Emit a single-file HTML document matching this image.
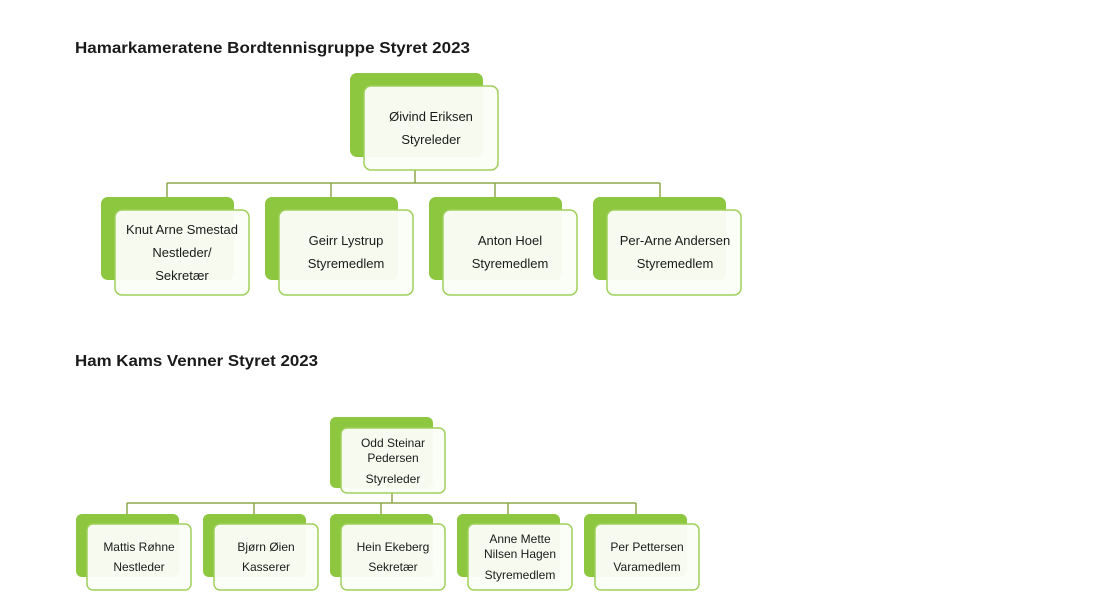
<!DOCTYPE html>
<html><head><meta charset="utf-8"><style>
html,body{margin:0;padding:0;background:#fff;}
svg{display:block;}
text{font-family:"Liberation Sans",sans-serif;fill:#1a1a1a;}
</style></head><body>
<svg width="1100" height="597" viewBox="0 0 1100 597" xmlns="http://www.w3.org/2000/svg">
<text x="75" y="53" font-size="16" font-weight="bold" textLength="395" lengthAdjust="spacingAndGlyphs">Hamarkameratene Bordtennisgruppe Styret 2023</text>
<text x="75" y="366" font-size="16" font-weight="bold" textLength="243" lengthAdjust="spacingAndGlyphs">Ham Kams Venner Styret 2023</text>

<g stroke="#8fa748" stroke-width="1.5" fill="none">
<path d="M415 170V183M167 183H660M167 183V197M331 183V197M495 183V197M660 183V197"/>
<path d="M392 493V503M127 503H636M127 503V514M254 503V514M381 503V514M508 503V514M636 503V514"/>
</g>

<g>
<!-- chart 1 -->
<rect x="350" y="73" width="133" height="84" rx="7" fill="#8dc63f"/>
<rect x="364" y="86" width="134" height="84" rx="7" fill="#fbfdf7" fill-opacity="0.96" stroke="#9fd05c" stroke-width="1.5"/>
<g font-size="13" text-anchor="middle">
<text x="431" y="121">Øivind Eriksen</text><text x="431" y="144">Styreleder</text>
</g>
<g id="c1">
<rect x="101" y="197" width="133" height="83" rx="7" fill="#8dc63f"/>
<rect x="115" y="210" width="134" height="85" rx="7" fill="#fbfdf7" fill-opacity="0.96" stroke="#9fd05c" stroke-width="1.5"/>
<rect x="265" y="197" width="133" height="83" rx="7" fill="#8dc63f"/>
<rect x="279" y="210" width="134" height="85" rx="7" fill="#fbfdf7" fill-opacity="0.96" stroke="#9fd05c" stroke-width="1.5"/>
<rect x="429" y="197" width="133" height="83" rx="7" fill="#8dc63f"/>
<rect x="443" y="210" width="134" height="85" rx="7" fill="#fbfdf7" fill-opacity="0.96" stroke="#9fd05c" stroke-width="1.5"/>
<rect x="593" y="197" width="133" height="83" rx="7" fill="#8dc63f"/>
<rect x="607" y="210" width="134" height="85" rx="7" fill="#fbfdf7" fill-opacity="0.96" stroke="#9fd05c" stroke-width="1.5"/>
</g>
<g font-size="13" text-anchor="middle">
<text x="182" y="234">Knut Arne Smestad</text><text x="182" y="257">Nestleder/</text><text x="182" y="280">Sekretær</text>
<text x="346" y="245">Geirr Lystrup</text><text x="346" y="268">Styremedlem</text>
<text x="510" y="245">Anton Hoel</text><text x="510" y="268">Styremedlem</text>
<text x="675" y="245">Per-Arne Andersen</text><text x="675" y="268">Styremedlem</text>
</g>

<!-- chart 2 -->
<rect x="330" y="417" width="103" height="71" rx="6" fill="#8dc63f"/>
<rect x="341" y="428" width="104" height="65" rx="6" fill="#fbfdf7" fill-opacity="0.96" stroke="#9fd05c" stroke-width="1.5"/>
<g font-size="12" text-anchor="middle">
<text x="393" y="447">Odd Steinar</text><text x="393" y="462">Pedersen</text><text x="393" y="483">Styreleder</text>
</g>
<rect x="76" y="514" width="103" height="63" rx="6" fill="#8dc63f"/>
<rect x="87" y="524" width="104" height="66" rx="6" fill="#fbfdf7" fill-opacity="0.96" stroke="#9fd05c" stroke-width="1.5"/>
<rect x="203" y="514" width="103" height="63" rx="6" fill="#8dc63f"/>
<rect x="214" y="524" width="104" height="66" rx="6" fill="#fbfdf7" fill-opacity="0.96" stroke="#9fd05c" stroke-width="1.5"/>
<rect x="330" y="514" width="103" height="63" rx="6" fill="#8dc63f"/>
<rect x="341" y="524" width="104" height="66" rx="6" fill="#fbfdf7" fill-opacity="0.96" stroke="#9fd05c" stroke-width="1.5"/>
<rect x="457" y="514" width="103" height="63" rx="6" fill="#8dc63f"/>
<rect x="468" y="524" width="104" height="66" rx="6" fill="#fbfdf7" fill-opacity="0.96" stroke="#9fd05c" stroke-width="1.5"/>
<rect x="584" y="514" width="103" height="63" rx="6" fill="#8dc63f"/>
<rect x="595" y="524" width="104" height="66" rx="6" fill="#fbfdf7" fill-opacity="0.96" stroke="#9fd05c" stroke-width="1.5"/>
<g font-size="12" text-anchor="middle">
<text x="139" y="551">Mattis Røhne</text><text x="139" y="571">Nestleder</text>
<text x="266" y="551">Bjørn Øien</text><text x="266" y="571">Kasserer</text>
<text x="393" y="551">Hein Ekeberg</text><text x="393" y="571">Sekretær</text>
<text x="520" y="543">Anne Mette</text><text x="520" y="558">Nilsen Hagen</text><text x="520" y="579">Styremedlem</text>
<text x="647" y="551">Per Pettersen</text><text x="647" y="571">Varamedlem</text>
</g>
</g>
</svg>
</body></html>
